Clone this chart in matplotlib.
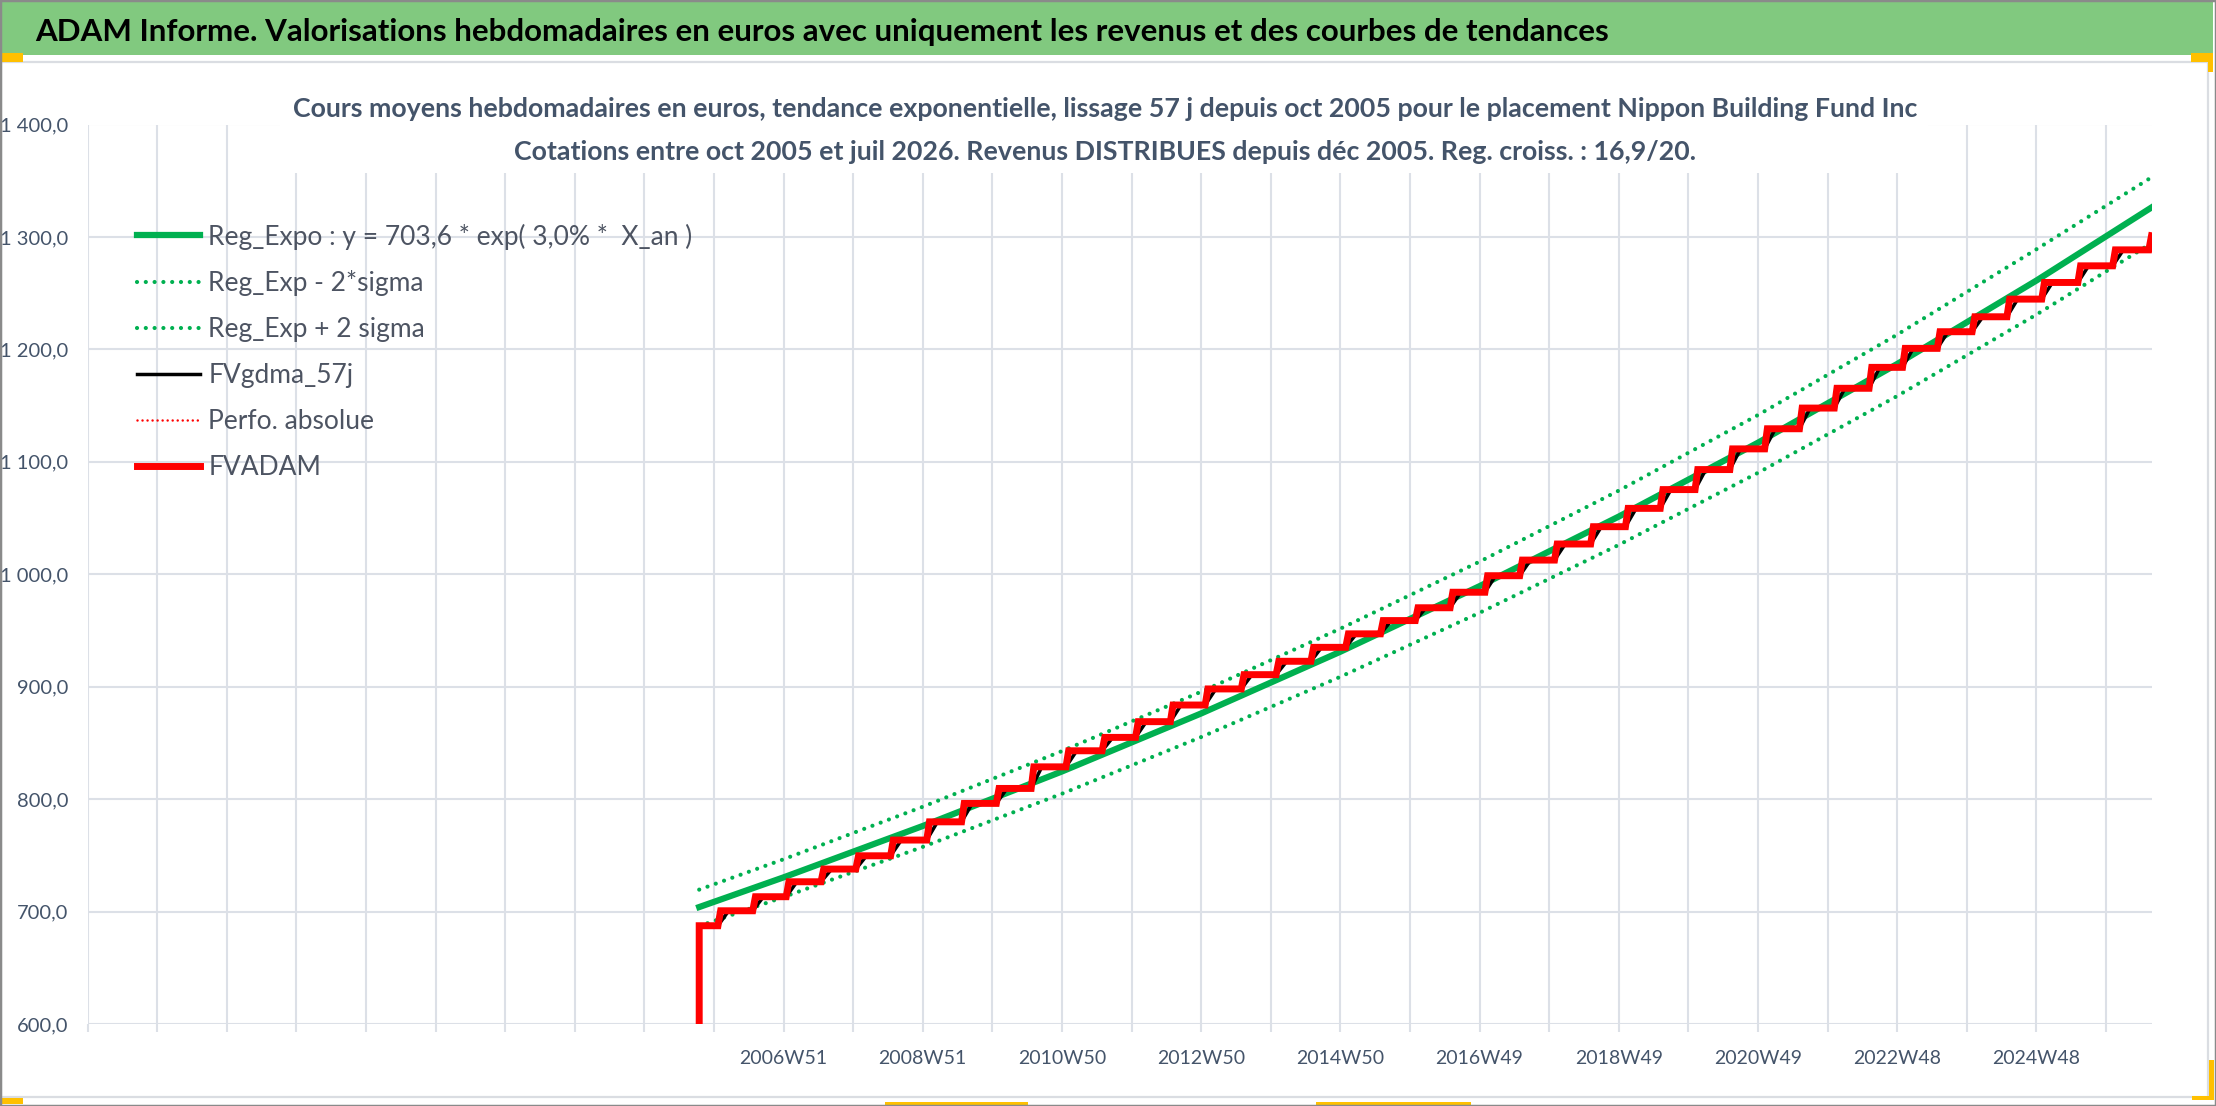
import matplotlib
matplotlib.use('Agg')
import matplotlib.pyplot as plt
from matplotlib.patches import Rectangle
from matplotlib.ticker import FixedLocator, FuncFormatter


# category axis: one category per week, empty categories before oct 2005
n_weeks = 1542
start_week = 457
week_step = 52

x_label_weeks = [520, 624, 728, 832, 936, 1040, 1144, 1248, 1352, 1456]
x_labels = ['2006W51', '2008W51', '2010W50', '2012W50', '2014W50',
            '2016W49', '2018W49', '2020W49', '2022W48', '2024W48']

# trend curves
trend_weeks = [457, 520, 624, 728, 832, 936, 1040, 1144, 1248, 1352, 1456, 1542]
reg_expo = [704.0, 730.4, 776.1, 824.6, 876.2, 931.1, 989.4, 1051.3,
            1117.0, 1187.0, 1261.2, 1326.2]
reg_minus = [687.1, 712.9, 757.5, 804.8, 855.2, 908.8, 965.7, 1026.1,
             1090.2, 1158.5, 1230.9, 1294.4]
reg_plus = [719.5, 746.5, 793.2, 842.7, 895.5, 951.6, 1011.2, 1074.4,
            1141.6, 1213.1, 1289.0, 1353.0]

# FVADAM staircase: week of each distribution and level after it
jump_weeks = [471, 497, 522, 548, 574, 600, 627, 653, 679, 705, 731, 758,
              783, 809, 835, 862, 888, 914, 940, 966, 992, 1018, 1044, 1070,
              1096, 1123, 1149, 1175, 1201, 1227, 1253, 1279, 1305, 1331,
              1356, 1382, 1408, 1434, 1460, 1487, 1513, 1540]
fvadam_levels = [687.4, 700.7, 713.2, 726.5, 737.8, 749.6, 763.6, 779.8,
                 796.2, 809.5, 828.7, 843.0, 854.9, 868.9, 883.7, 898.0,
                 910.7, 922.6, 935.0, 947.0, 958.8, 970.2, 984.0, 998.7,
                 1012.6, 1026.9, 1042.3, 1058.6, 1075.3, 1093.1, 1111.5,
                 1129.4, 1147.8, 1165.4, 1184.0, 1200.9, 1215.7, 1229.0,
                 1244.7, 1259.5, 1274.3, 1288.5, 1301.0]
fv_before_start = 0.0

y_ticks = [600, 700, 800, 900, 1000, 1100, 1200, 1300, 1400]

title = ('ADAM Informe. Valorisations hebdomadaires en euros avec uniquement '
         'les revenus et des courbes de tendances')
subtitle1 = ('Cours moyens hebdomadaires en euros, tendance exponentielle, '
             'lissage 57 j depuis oct 2005 pour le placement Nippon Building Fund Inc')
subtitle2 = ('Cotations entre oct 2005 et juil 2026. Revenus DISTRIBUES depuis '
             'déc 2005. Reg. croiss. : 16,9/20.')


def step_path(weeks, levels, ramp):
    xs = [start_week]
    ys = [levels[0]]
    for w, lo, hi in zip(weeks, levels[:-1], levels[1:]):
        xs += [w, w + ramp]
        ys += [lo, hi]
    if xs[-1] < n_weeks:
        xs.append(n_weeks)
        ys.append(levels[-1])
    return xs, ys


W, H = 2216, 1106
plt.rcParams['font.family'] = ['Lato', 'DejaVu Sans']
fig = plt.figure(figsize=(W / 100, H / 100), dpi=100)

# frame, title band, selection handles
fig.patches.append(Rectangle((1 / W, 1 - 1097 / H), 2207 / W, 1035 / H,
                             transform=fig.transFigure, fill=False,
                             edgecolor='#DADDE2', lw=1.6, zorder=0))
fig.patches.append(Rectangle((0, 1 - 55 / H), 2213 / W, 53 / H,
                             transform=fig.transFigure, facecolor='#81C97F',
                             edgecolor='none', zorder=1))
fig.patches.append(Rectangle((0, 0), 1, 1, transform=fig.transFigure,
                             fill=False, edgecolor='#8A8A8A', lw=2.5, zorder=5))
handle_boxes = [(0, 53, 23, 9), (2191, 53, 22, 9), (2208, 53, 5, 19),
                (0, 1098, 23, 6), (885, 1102, 143, 4), (1316, 1102, 155, 4),
                (2209, 1060, 5, 40), (2192, 1096, 22, 4)]
for bx, by, bw, bh in handle_boxes:
    fig.patches.append(Rectangle((bx / W, 1 - (by + bh) / H), bw / W, bh / H,
                                 transform=fig.transFigure, facecolor='#FFC000',
                                 edgecolor='none', zorder=4))

fig.text(35 / W, 1 - 41 / H, title, fontsize=22.5, fontweight='bold',
         color='black', ha='left', va='baseline')

ax = fig.add_axes([87.5 / W, 1 - 1024 / H, 2064 / W, 899.5 / H])

grid_color = '#DCE0E7'
green = '#00B050'

ax.plot(trend_weeks, reg_minus, color=green, lw=3.0,
        linestyle=(0, (0.01, 2.1)), dash_capstyle='round',
        label='Reg_Exp - 2*sigma', zorder=2)
ax.plot(trend_weeks, reg_plus, color=green, lw=3.0,
        linestyle=(0, (0.01, 2.1)), dash_capstyle='round',
        label='Reg_Exp + 2 sigma', zorder=2)
ax.plot(trend_weeks, reg_expo, color=green, lw=4.5,
        label='Reg_Expo : y = 703,6 * exp( 3,0% *  X_an )', zorder=3)

gx, gy = step_path(jump_weeks, fvadam_levels, 8)
ax.plot(gx, gy, color='black', lw=2.5, label='FVgdma_57j', zorder=4)

fx, fy = step_path(jump_weeks, fvadam_levels, 2)
fx = [start_week] + fx
fy = [fv_before_start] + fy
ax.plot(fx, fy, color='#FF0000', lw=1.8, linestyle=(0, (0.01, 2.0)),
        dash_capstyle='round', label='Perfo. absolue', zorder=4)
ax.plot(fx, fy, color='#FF0000', lw=5.0, solid_joinstyle='miter',
        label='FVADAM', zorder=5)

ax.set_xlim(0, n_weeks)
ax.set_ylim(600, 1400)

grid_weeks = list(range(0, n_weeks, week_step))
tick_text = [x_labels[x_label_weeks.index(w)] if w in x_label_weeks else ''
             for w in grid_weeks]
ax.xaxis.set_major_locator(FixedLocator(grid_weeks))
ax.set_xticklabels(tick_text)
ax.set_yticks(y_ticks)
ax.yaxis.set_major_formatter(FuncFormatter(
    lambda v, p: '{:,.1f}'.format(v).replace(',', ' ').replace('.', ',')))

ax.grid(True, color=grid_color, lw=1.5, zorder=0)
ax.set_axisbelow(True)
for s in ax.spines.values():
    s.set_visible(False)
ax.tick_params(axis='x', length=5.5, width=1.5, color=grid_color, pad=13,
               labelsize=14, labelcolor='#44546A')
ax.tick_params(axis='y', length=0, pad=14, labelsize=14.5, labelcolor='#44546A')

handles, labels = ax.get_legend_handles_labels()
order = [2, 0, 1, 3, 4, 5]
ax.legend([handles[i] for i in order], [labels[i] for i in order],
          loc='upper left', bbox_to_anchor=(137 / W, 1 - 223.5 / H),
          bbox_transform=fig.transFigure, frameon=False, fontsize=19,
          handlelength=2.4, handletextpad=0.3, labelspacing=0.79,
          borderpad=0, borderaxespad=0, labelcolor='#4D5462')

# white box behind the chart title hides the top gridlines
fig.patches.append(Rectangle((280 / W, 1 - 173 / H), 1648 / W, 83 / H,
                             transform=fig.transFigure, facecolor='white',
                             edgecolor='none', zorder=2))
fig.text(1105 / W, 1 - 117 / H, subtitle1, fontsize=19.3, fontweight='bold',
         color='#44546A', ha='center', va='baseline', zorder=3)
fig.text(1105 / W, 1 - 159.5 / H, subtitle2, fontsize=19.3, fontweight='bold',
         color='#44546A', ha='center', va='baseline', zorder=3)

fig.savefig('out.png', dpi=100)
